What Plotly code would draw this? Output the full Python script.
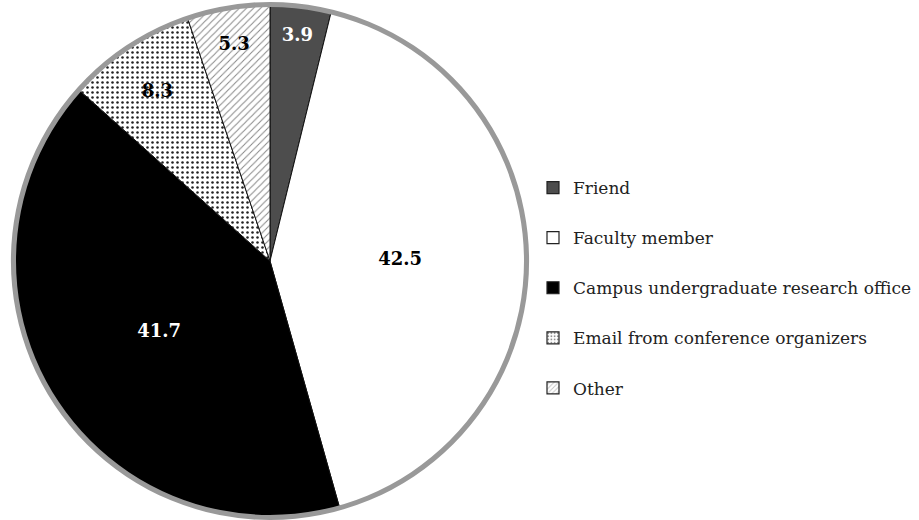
import plotly.graph_objects as go

categories = ["Friend", "Faculty member", "Campus undergraduate research office",
              "Email from conference organizers", "Other"]
values = [3.9, 42.5, 41.7, 8.3, 5.3]

fill_colors = ["#4d4d4d", "#ffffff", "#000000", "#ffffff", "#ffffff"]
pattern_shapes = ["", "", "", ".", "/"]
pattern_fg = ["#000000", "#000000", "#000000", "#222222", "#888888"]
text_colors = ["white", "black", "white", "black", "black"]

SERIF = "DejaVu Serif"
W, H = 919, 520
cx, cy, r = 270, 261, 256
ring_r = 259

def dom(cx_, cy_, rr):
    return dict(x=[(cx_ - rr) / W, (cx_ + rr) / W],
                y=[max(0, 1 - (cy_ + rr) / H), min(1, 1 - (cy_ - rr) / H)])

fig = go.Figure()

fig.add_trace(go.Pie(
    labels=categories, values=values, sort=False, direction="clockwise", rotation=0,
    domain=dom(cx, cy, r),
    marker=dict(colors=fill_colors,
                line=dict(color="#111111", width=1),
                pattern=dict(shape=pattern_shapes, fgcolor=pattern_fg,
                             bgcolor=fill_colors, size=5, solidity=0.2)),
    texttemplate="<b>%{value:.1f}</b>", textposition="inside",
    insidetextorientation="horizontal",
    textfont=dict(family=SERIF, size=18, color=text_colors),
    hoverinfo="skip", showlegend=False,
))

# outer gray ring
fig.add_trace(go.Pie(
    labels=["ring"], values=[1], sort=False, hole=(ring_r - 5) / ring_r,
    domain=dom(cx, cy, ring_r),
    marker=dict(colors=["#999999"], line=dict(width=0)),
    textinfo="none", hoverinfo="skip", showlegend=False,
))

# legend entries
for i, name in enumerate(categories):
    fig.add_trace(go.Bar(
        x=[None], y=[None], name=name, legendgroup=name,
        marker=dict(color=fill_colors[i], line=dict(color="#222222", width=1.2),
                    pattern=dict(shape=pattern_shapes[i], fgcolor=pattern_fg[i],
                                 bgcolor=fill_colors[i], size=4, solidity=0.3)),
        showlegend=True, hoverinfo="skip",
    ))

fig.update_layout(
    width=W, height=H, margin=dict(l=0, r=0, t=0, b=0),
    paper_bgcolor="white", plot_bgcolor="white",
    xaxis=dict(visible=False), yaxis=dict(visible=False),
    legend=dict(x=533 / W, y=1 - 170 / H, xanchor="left", yanchor="top",
                font=dict(family=SERIF, size=17, color="#222222"),
                tracegroupgap=25, bgcolor="rgba(0,0,0,0)"),
)

fig.write_html("out.html")
